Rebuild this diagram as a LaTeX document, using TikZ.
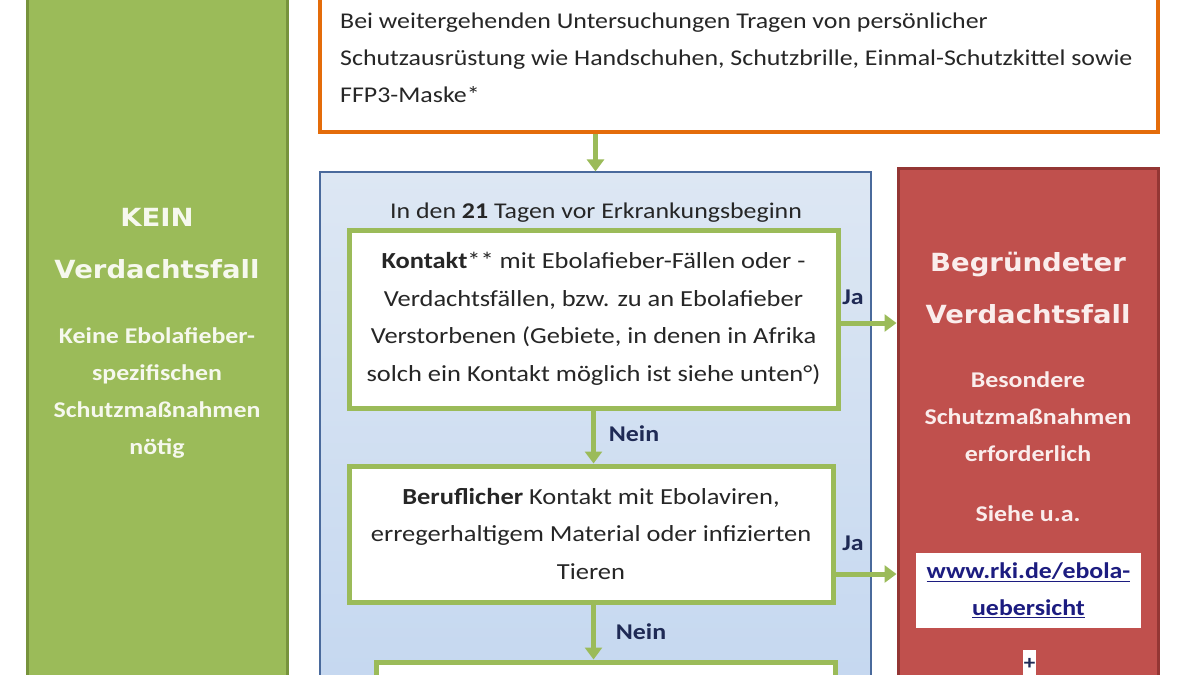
\documentclass[tikz,border=0pt]{standalone}
\usepackage{fontspec}
\setmainfont{Carlito}[FakeStretch=1.15]
\newfontfamily\titlefamily{DejaVu Sans}[FakeStretch=1.1]
\usetikzlibrary{arrows.meta}
\definecolor{kgreen}{HTML}{9BBB59}
\definecolor{kgreendark}{HTML}{77933C}
\definecolor{korange}{HTML}{E46C0A}
\definecolor{kred}{HTML}{C0504D}
\definecolor{kreddark}{HTML}{943634}
\definecolor{kbluetop}{HTML}{DDE7F3}
\definecolor{kbluebot}{HTML}{C4D7F0}
\definecolor{kblueedge}{HTML}{4A6A9C}
\definecolor{knavy}{HTML}{1F2A55}
\definecolor{klink}{HTML}{1C1C80}
\definecolor{kpale}{HTML}{F6F8EE}
\definecolor{kpink}{HTML}{FAEDEC}
\definecolor{ktext}{HTML}{262626}
\newcommand\kbody{\fontsize{22.5}{37}\selectfont}
\newcommand\kboxfont{\fontsize{23}{37.5}\selectfont}
\newcommand\kbold{\fontsize{22.5}{37}\selectfont\bfseries}
\newcommand\ktitle{\titlefamily\bfseries\fontsize{25}{52}\selectfont}
\begin{document}
\begin{tikzpicture}[x=1pt,y=-1pt,
  panel/.style={rectangle, draw, inner sep=0pt},
  qbox/.style={rectangle, draw=kgreen, line width=5pt, fill=white, align=center,
    text=ktext, font=\kboxfont, inner sep=0pt},
  flow/.style={draw=kgreen, line width=5pt, -{Triangle[width=17pt,length=12pt]}},
  lbl/.style={text=knavy, font=\kbold, inner sep=0pt},
  wtxt/.style={align=center, inner sep=0pt}
]
\clip (0,0) rectangle (1200,675);
\fill[white] (0,0) rectangle (1200,675);

% left green panel
\node[panel, fill=kgreen, draw=kgreendark, line width=3pt,
  minimum width=260pt, minimum height=720pt] (green) at (157.5,330) {};
\node[wtxt, text=kpale, font=\ktitle] (kein) at (157,244) {KEIN\\Verdachtsfall};
\node[wtxt, text=kpale, font=\kbold] (keine) at (157,393)
  {Keine Ebolafieber-\\spezifischen\\Schutzmaßnahmen\\nötig};

% top orange box
\node[panel, draw=korange, line width=4pt, fill=white,
  minimum width=838pt, minimum height=152pt] (orange) at (739,56) {};
\node[anchor=west, inner sep=0pt, align=left, text=ktext, font=\kbody] (otext) at (340,58)
  {Bei weitergehenden Untersuchungen Tragen von persönlicher\\
   Schutzausrüstung wie Handschuhen, Schutzbrille, Einmal-Schutzkittel sowie\\
   FFP3-Maske*};

% blue panel
\node[panel, top color=kbluetop, bottom color=kbluebot, draw=kblueedge, line width=1.2pt,
  minimum width=551pt, minimum height=540pt] (blue) at (595.5,442) {};
\node[inner sep=0pt, text=ktext, font=\kbody] (hdr) at (596,213)
  {In den \textbf{21} Tagen vor Erkrankungsbeginn};

% questions
\node[qbox, minimum width=489pt, minimum height=178pt] (q1) at (593.5,319)
  {\textbf{Kontakt}** mit Ebolafieber-Fällen oder -\\
   Verdachtsfällen, bzw. zu an Ebolafieber\\
   Verstorbenen (Gebiete, in denen in Afrika\\
   solch ein Kontakt möglich ist siehe unten°)};
\node[qbox, minimum width=484pt, minimum height=136pt] (q2) at (591,534)
  {\textbf{Beruflicher} Kontakt mit Ebolaviren,\\
   erregerhaltigem Material oder infizierten\\
   Tieren};
\node[qbox, minimum width=459pt, minimum height=66pt] (q3) at (605.5,695) {};

% red panel
\node[panel, fill=kred, draw=kreddark, line width=3pt,
  minimum width=260pt, minimum height=544pt] (red) at (1028,440) {};
\node[wtxt, text=kpink, font=\ktitle] (begr) at (1028,287.5) {Begründeter\\Verdachtsfall};
\node[wtxt, text=kpink, font=\kbold] (bes) at (1028,417)
  {Besondere\\Schutzmaßnahmen\\erforderlich};
\node[wtxt, text=kpink, font=\kbold] (siehe) at (1028,514) {Siehe u.a.};
\node[panel, draw=none, fill=white, align=center, text=klink, font=\kbold,
  minimum width=225pt, minimum height=75pt] (link) at (1028.5,590.5)
  {\underline{www.rki.de/ebola-}\\\underline{uebersicht}};
\node[panel, draw=none, fill=white, text=knavy, font=\fontsize{20}{20}\selectfont\bfseries,
  minimum width=13pt, minimum height=28pt] (plus) at (1029.5,664) {+};

% connectors
\draw[flow] (orange.south -| blue.north) -- (blue.north);
\draw[flow] (q1.south) -- (q1.south |- q2.north);
\draw[flow] (q1.south |- q2.south) -- (q1.south |- q3.north);
\node[lbl] (nein1) at (634,434) {Nein};
\node[lbl] (nein2) at (641,632) {Nein};
\draw[flow] ([yshift=-4pt]q1.east) -- ([yshift=-4pt]q1.east -| red.west);
\draw[flow] ([yshift=-40pt]q2.east) -- ([yshift=-40pt]q2.east -| red.west);
\node[lbl] (ja1) at (853,297) {Ja};
\node[lbl] (ja2) at (853,543) {Ja};
\end{tikzpicture}
\end{document}
